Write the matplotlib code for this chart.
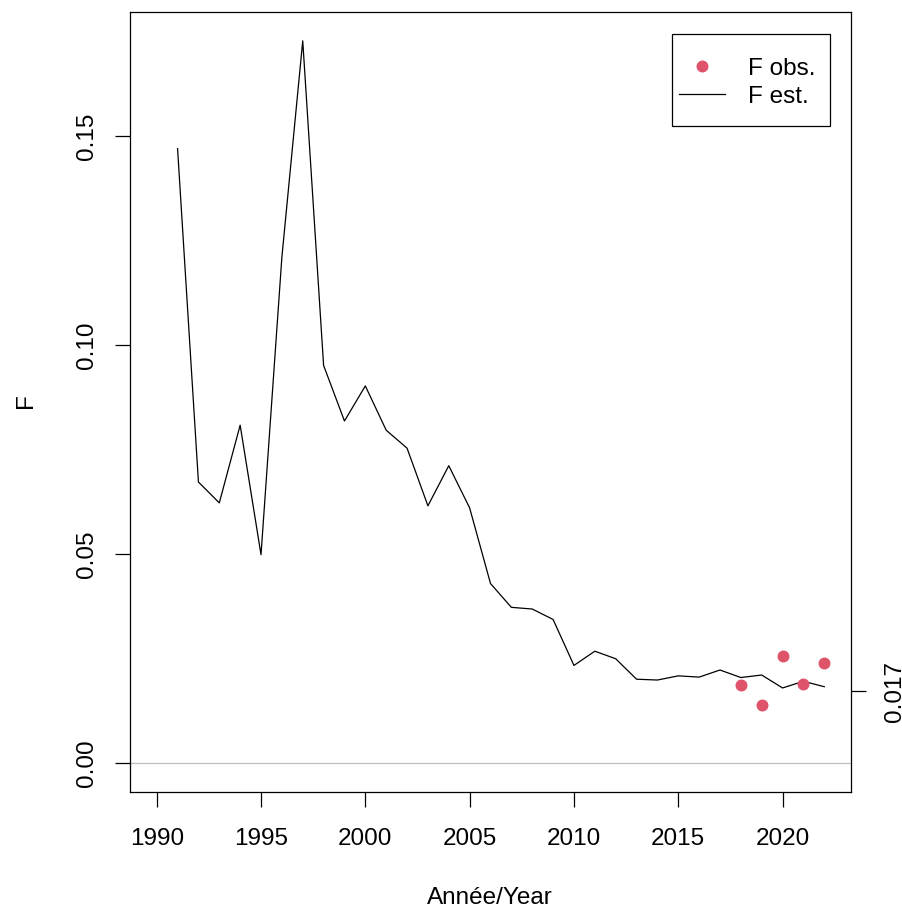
import matplotlib
matplotlib.use("Agg")
import matplotlib.pyplot as plt
from matplotlib.lines import Line2D
from matplotlib.patches import Rectangle

plt.rcParams["font.family"] = ["Liberation Sans", "DejaVu Sans"]

# Estimated fishing mortality by year
years = list(range(1991, 2023))
f_est = [0.1471, 0.0673, 0.0623, 0.0809, 0.0499, 0.1211, 0.1729, 0.0952,
         0.0819, 0.0903, 0.0797, 0.0754, 0.0616, 0.0712, 0.0611, 0.0430,
         0.0373, 0.0369, 0.0344, 0.0234, 0.0268, 0.0250, 0.0201, 0.0199,
         0.0209, 0.0206, 0.0223, 0.0205, 0.0211, 0.0180, 0.0196, 0.0183]

# Observed F for the recent years
obs_years = [2018, 2019, 2020, 2021, 2022]
f_obs = [0.0188, 0.0140, 0.0257, 0.0190, 0.0239]

x_ticks = [1990, 1995, 2000, 2005, 2010, 2015, 2020]
y_ticks = [0.00, 0.05, 0.10, 0.15]
y_tick_labels = ["0.00", "0.05", "0.10", "0.15"]
ref_value = 0.0172
ref_label = "0.017"

obs_color = "#DF536B"
fs = 17.5
lw = 0.9

fig = plt.figure(figsize=(9.02, 9.11), dpi=100)
ax = fig.add_axes([130 / 902, 119 / 911, 721 / 902, 780 / 911])

ax.axhline(0, color="#BEBEBE", lw=lw, zorder=1)
ax.plot(years, f_est, color="black", lw=lw, zorder=2)
ax.plot(obs_years, f_obs, "o", color=obs_color, ms=8.6, mec="none", zorder=3)

ax.set_xlim(1988.72, 2023.28)
ax.set_ylim(-0.0069, 0.1798)

for sp in ax.spines.values():
    sp.set_linewidth(lw)

ax.set_xticks(x_ticks)
ax.set_xticklabels([str(y) for y in x_ticks])
ax.set_yticks(y_ticks)
ax.set_yticklabels(y_tick_labels, rotation=90, va="center")
ax.tick_params(axis="x", length=11, width=lw, pad=15, labelsize=fs)
ax.tick_params(axis="y", length=11, width=lw, pad=12, labelsize=fs)

# right-hand axis with a single reference tick
ax2 = ax.twinx()
ax2.set_ylim(ax.get_ylim())
ax2.set_yticks([ref_value])
ax2.set_yticklabels([ref_label], rotation=90, va="center")
ax2.tick_params(axis="y", length=11, width=lw, pad=13, labelsize=fs)
for sp in ax2.spines.values():
    sp.set_visible(False)

fig.text(489.5 / 902, 1 - 898 / 911, "Année/Year", fontsize=fs,
         ha="center", va="center")
fig.text(26 / 902, 1 - 401 / 911, "F", fontsize=fs, rotation=90,
         ha="center", va="center")

# legend: box drawn separately so the padding can differ per side
ax.add_patch(Rectangle((542 / 721, 666 / 780), 158 / 721, 92 / 780,
                       transform=ax.transAxes, fill=True, fc="white",
                       ec="black", lw=lw, zorder=4))
handles = [
    Line2D([], [], marker="o", ls="none", color=obs_color, ms=8.6, mec="none"),
    Line2D([], [], color="black", lw=lw),
]
leg = ax.legend(handles, ["F obs.", "F est."], loc="upper left",
                bbox_to_anchor=(549 / 721, 734.5 / 780), fontsize=fs,
                frameon=False, borderpad=0, handlelength=1.9,
                handletextpad=0.95, labelspacing=0.26, borderaxespad=0)
leg.set_zorder(5)

fig.savefig("out.png", dpi=100)
